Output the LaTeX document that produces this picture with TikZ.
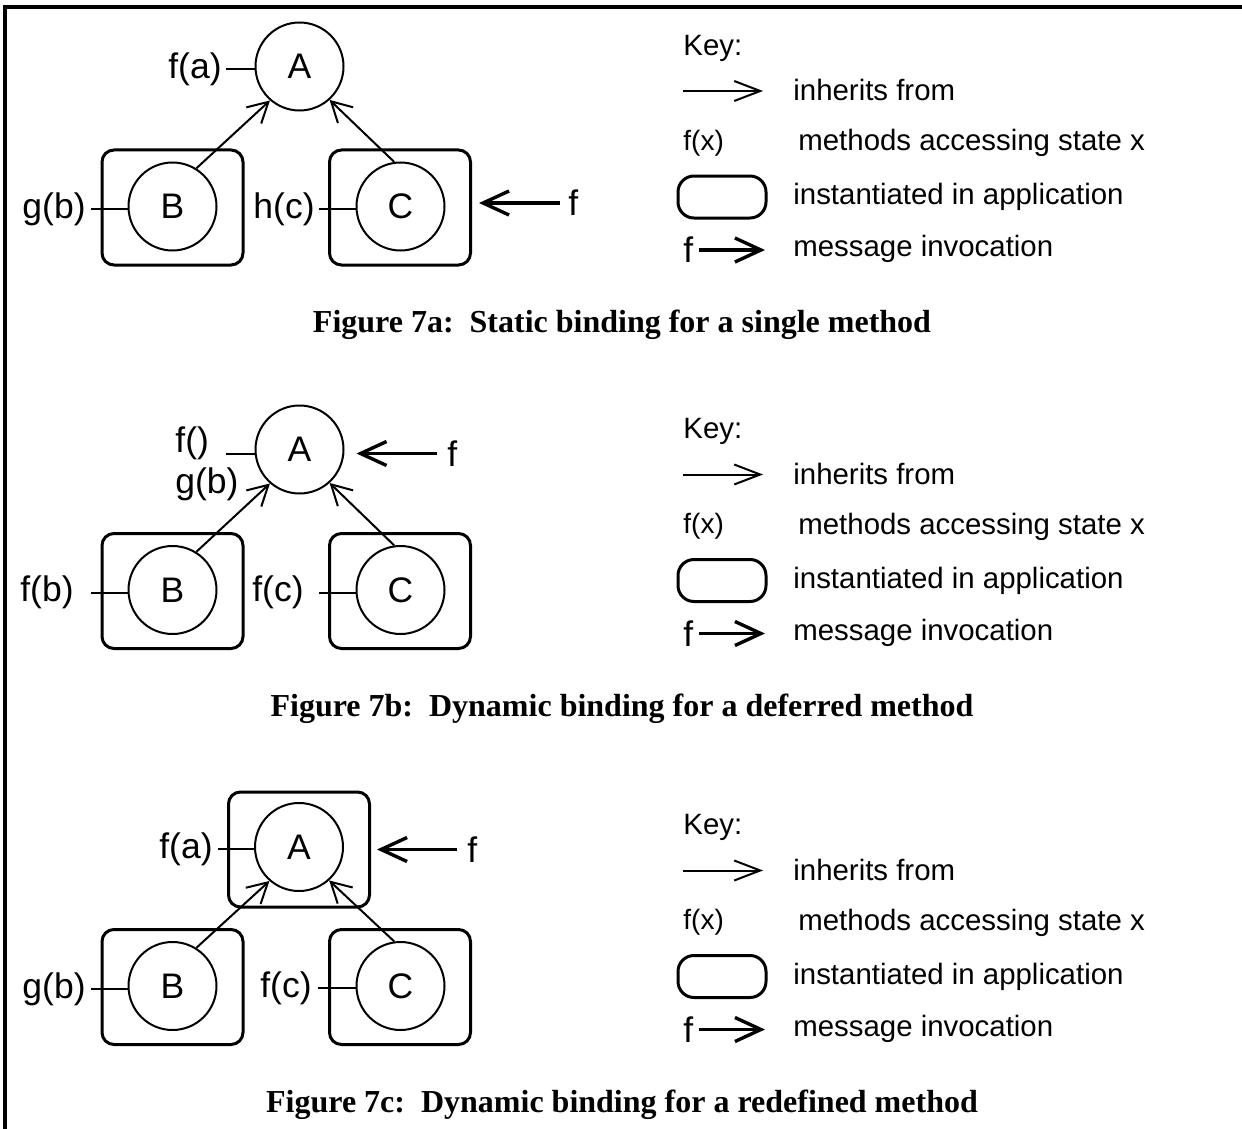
\documentclass[tikz,border=0pt]{standalone}
\usepackage{fontspec}
\setmainfont{Liberation Serif}
\newfontfamily\lsans{Liberation Sans}
\usetikzlibrary{arrows.meta}
\newcommand\labfont{\lsans\fontsize{14.7pt}{17pt}\selectfont}
\newcommand\dgmfont{\lsans\fontsize{17.75pt}{20pt}\selectfont}
\newcommand\fxfont{\lsans\fontsize{14pt}{16pt}\selectfont}
\newcommand\capfont{\bfseries\fontsize{16pt}{19pt}\selectfont}
\begin{document}
\begin{tikzpicture}[x=0.5pt,y=-0.5pt,
 obj/.style={circle, draw, line width=1pt, minimum size=44pt, inner sep=0pt, font=\dgmfont},
 inst/.style={draw, line width=1.5pt, rounded corners=6pt, minimum width=70.5pt, minimum height=57.5pt, inner sep=0pt},
 lbl/.style={font=\labfont, inner sep=0pt},
 dlbl/.style={font=\dgmfont, inner sep=0pt},
 stub/.style={line width=1pt},
 inh/.style={line width=1pt, -{Straight Barb[length=10pt,width=11pt]}},
 msg/.style={line width=1.7pt, -{Straight Barb[length=13pt,width=12pt]}},
 keyinh/.style={line width=1pt, -{Straight Barb[length=13pt,width=10pt]}},
 keybox/.style={draw, line width=1.5pt, rounded corners=8pt, minimum width=44pt, minimum height=21pt, inner sep=0pt},
 figcap/.style={font=\capfont, inner sep=0pt}]
\useasboundingbox (0,0) rectangle (1242,1129);
\draw[line width=2pt] (5,1129) -- (5,7) -- (1242,7);

% ---------------- Figure 7a ----------------
\begin{scope}
\node[obj] (A1) at (299.5,66.5) {A};
\node[inst] (bB1) at (172.5,207.5) {};
\node[obj] (B1) at (172.5,206.5) {B};
\node[inst] (bC1) at (400,207.5) {};
\node[obj] (C1) at (400.5,206.5) {C};
\node[dlbl, anchor=east] (fa1) at (222,69) {f(a)};
\node[dlbl, anchor=east] (gb1) at (86,209) {g(b)};
\node[dlbl, anchor=east] (hc1) at (315,209) {h(c)};
\draw[stub] ([xshift=2pt]fa1.east) -- (A1.west |- fa1.east);
\draw[stub] ([xshift=2.5pt]gb1.east) -- (B1.west |- gb1.east);
\draw[stub] ([xshift=2pt]hc1.east) -- (C1.west |- hc1.east);
\draw[inh] (B1.58) -- (A1.229);
\draw[inh] (C1.98) -- (A1.-48);
\node[dlbl, anchor=west] (m1) at (568,203) {f};
\draw[msg] ([xshift=-4pt]m1.west) -- ([xshift=3.5pt]bC1.east |- m1.west);
% key
\node[lbl, anchor=west] (k1) at (683,48) {Key:};
\coordinate (ki1s) at (683,91);
\coordinate (ki1e) at (763,91);
\draw[keyinh] (ki1s) -- (ki1e);
\node[lbl, anchor=west] (kt1a) at (793,90) {inherits from};
\node[lbl, anchor=west, font=\fxfont] (kfx1) at (683,143) {f(x)};
\node[lbl, anchor=west] (kt1b) at (798,143) {methods accessing state x};
\node[keybox] (kb1) at (722,197) {};
\node[lbl, anchor=west] (kt1c) at (793,197) {instantiated in application};
\node[dlbl, anchor=west] (kf1) at (683,250) {f};
\coordinate (km1) at (765,250);
\draw[msg] ([xshift=2.5pt]kf1.east) -- (km1 |- kf1.east);
\node[lbl, anchor=west] (kt1d) at (793,249) {message invocation};
\node[figcap] (cap1) at (622,325) {Figure 7a:\ \ Static binding for a single method};
\end{scope}

% ---------------- Figure 7b ----------------
\begin{scope}[shift={(0,383.5)}]
\node[obj] (A2) at (299.5,66) {A};
\node[inst] (bB2) at (172.5,207.5) {};
\node[obj] (B2) at (172.5,206.5) {B};
\node[inst] (bC2) at (400,207.5) {};
\node[obj] (C2) at (400.5,206.5) {C};
\node[dlbl, anchor=west] (fe2) at (175,59.5) {f()};
\node[dlbl, anchor=west] (gb2) at (175,100.5) {g(b)};
\node[dlbl, anchor=east] (fb2) at (74,208.5) {f(b)};
\node[dlbl, anchor=east] (fc2) at (304,208.5) {f(c)};
\coordinate (la2) at (226,70.5);
\coordinate (lb2) at (91,209.5);
\coordinate (lc2) at (319,209.5);
\draw[stub] (la2) -- (A2.west |- la2);
\draw[stub] (lb2) -- (B2.west |- lb2);
\draw[stub] (lc2) -- (C2.west |- lc2);
\draw[inh] (B2.58) -- (A2.229);
\draw[inh] (C2.98) -- (A2.-48);
\node[dlbl, anchor=west] (m2) at (447,70) {f};
\draw[msg] ([xshift=-5pt]m2.west) -- ([xshift=6pt]A2.east |- m2.west);
% key
\node[lbl, anchor=west] (k2) at (683,48) {Key:};
\coordinate (ki2s) at (683,91);
\coordinate (ki2e) at (763,91);
\draw[keyinh] (ki2s) -- (ki2e);
\node[lbl, anchor=west] (kt2a) at (793,90) {inherits from};
\node[lbl, anchor=west, font=\fxfont] (kfx2) at (683,143) {f(x)};
\node[lbl, anchor=west] (kt2b) at (798,143) {methods accessing state x};
\node[keybox] (kb2) at (722,197) {};
\node[lbl, anchor=west] (kt2c) at (793,197) {instantiated in application};
\node[dlbl, anchor=west] (kf2) at (683,250) {f};
\coordinate (km2) at (765,250);
\draw[msg] ([xshift=2.5pt]kf2.east) -- (km2 |- kf2.east);
\node[lbl, anchor=west] (kt2d) at (793,249) {message invocation};
\node[figcap] (cap2) at (622,325) {Figure 7b:\ \ Dynamic binding for a deferred method};
\end{scope}

% ---------------- Figure 7c ----------------
\begin{scope}[shift={(0,779.5)}]
\node[inst] (bA3) at (299,70) {};
\node[obj] (A3) at (299,67.5) {A};
\node[inst] (bB3) at (172.5,207.5) {};
\node[obj] (B3) at (172.5,206.5) {B};
\node[inst] (bC3) at (400,207.5) {};
\node[obj] (C3) at (400.5,206.5) {C};
\node[dlbl, anchor=east] (fa3) at (213,69.5) {f(a)};
\node[dlbl, anchor=east] (gb3) at (86,209.5) {g(b)};
\node[dlbl, anchor=east] (fc3) at (312,208.5) {f(c)};
\draw[stub] ([xshift=2.5pt]fa3.east) -- (A3.west |- fa3.east);
\draw[stub] ([xshift=2.5pt]gb3.east) -- (B3.west |- gb3.east);
\draw[stub] ([xshift=3pt]fc3.east) -- (C3.west |- fc3.east);
\draw[inh] (B3.58) -- (A3.229);
\draw[inh] (C3.98) -- (A3.-48);
\node[dlbl, anchor=west] (m3) at (467,70) {f};
\draw[msg] ([xshift=-5pt]m3.west) -- ([xshift=3pt]bA3.east |- m3.west);
% key
\node[lbl, anchor=west] (k3) at (683,48) {Key:};
\coordinate (ki3s) at (683,91);
\coordinate (ki3e) at (763,91);
\draw[keyinh] (ki3s) -- (ki3e);
\node[lbl, anchor=west] (kt3a) at (793,90) {inherits from};
\node[lbl, anchor=west, font=\fxfont] (kfx3) at (683,143) {f(x)};
\node[lbl, anchor=west] (kt3b) at (798,143) {methods accessing state x};
\node[keybox] (kb3) at (722,197) {};
\node[lbl, anchor=west] (kt3c) at (793,197) {instantiated in application};
\node[dlbl, anchor=west] (kf3) at (683,250) {f};
\coordinate (km3) at (765,250);
\draw[msg] ([xshift=2.5pt]kf3.east) -- (km3 |- kf3.east);
\node[lbl, anchor=west] (kt3d) at (793,249) {message invocation};
\node[figcap] (cap3) at (622,325) {Figure 7c:\ \ Dynamic binding for a redefined method};
\end{scope}
\end{tikzpicture}
\end{document}
